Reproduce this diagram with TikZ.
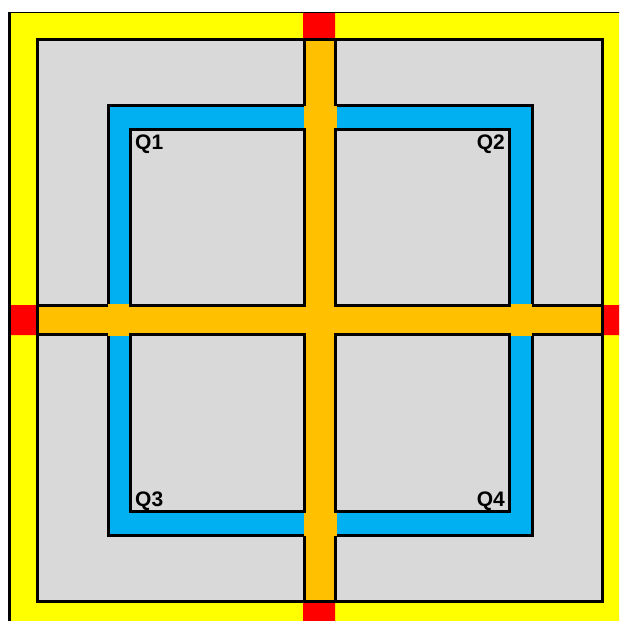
\documentclass[tikz,border=0pt]{standalone}
\usepackage{fontspec}
\setmainfont{Liberation Sans}
\usetikzlibrary{positioning}
\definecolor{frame}{HTML}{FFFF00}
\definecolor{gate}{HTML}{FF0000}
\definecolor{road}{HTML}{FFC000}
\definecolor{loop}{HTML}{00B0F0}
\definecolor{lot}{HTML}{D9D9D9}
\tikzset{wall/.style={draw=black,line width=3pt},
  plot/.style={fill=lot,wall},
  tag/.style={font=\bfseries\fontsize{21}{21}\selectfont,inner sep=0pt}}

\begin{document}
\begin{tikzpicture}[x=1pt,y=-1pt]
  \useasboundingbox (0,0) rectangle (619,621);
  \clip (0,0) rectangle (619,621);
  % outer band
  \fill[frame] (8,12) rectangle (640,640);
  \draw[line width=3pt] (9.5,12) -- (9.5,640);
  \draw[line width=1pt] (8,12.5) -- (640,12.5);
  \fill[gate] (303,13) rectangle (335,38) (11,305) rectangle (37,335)
    (603,305) rectangle (640,335) (303,602) rectangle (335,640);
  % site and ring
  \filldraw[plot] (37.5,39.5) rectangle (602.5,601);
  \filldraw[fill=loop,wall] (108,105.5) rectangle (532,535.5);
  % cross
  \fill[road] (303.5,41) rectangle (336.5,599.5);
  \fill[road] (39,304) rectangle (601,336);
  \draw[wall] (304.7,39.5) -- (304.7,105.5) (335.3,39.5) -- (335.3,105.5)
    (304.7,535.5) -- (304.7,601) (335.3,535.5) -- (335.3,601)
    (37.5,305.3) -- (108,305.3) (37.5,334.7) -- (108,334.7)
    (532,305.3) -- (602.5,305.3) (532,334.7) -- (602.5,334.7);
  % quadrants
  \filldraw[plot] (130.3,129) rectangle (304.7,305.3);
  \filldraw[plot] (335.3,129) rectangle (509,305.3);
  \filldraw[plot] (130.3,334.7) rectangle (304.7,511.5);
  \filldraw[plot] (335.3,334.7) rectangle (509,511.5);
  \node[tag,anchor=north west] (q1) at (135,135) {Q1};
  \node[tag,anchor=north east] (q2) at (505,135) {Q2};
  \node[tag,anchor=base west] (q3) at (135,506) {Q3};
  \node[tag,anchor=base east] (q4) at (505,506) {Q4};
\end{tikzpicture}
\end{document}
